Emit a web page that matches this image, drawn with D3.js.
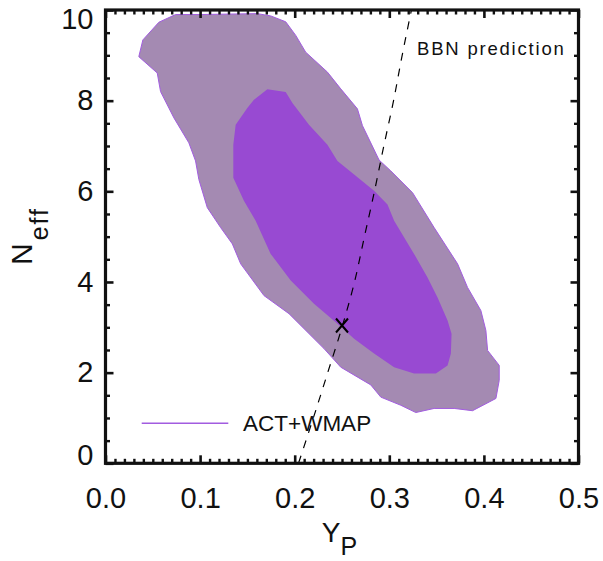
<!DOCTYPE html>
<html><head><meta charset="utf-8">
<script src="https://cdn.jsdelivr.net/npm/d3@7"></script>
<style>body{margin:0;background:#fff} svg{display:block}</style>
</head><body><div id="chart"></div>
<script>
// ---- data ----
const outerYp   = [0.0352,0.0395,0.0564,0.0741,0.1005,0.1605,0.1746,0.1905,0.2011,0.2116,0.2346,0.2487,0.2663,0.2716,0.2892,0.3016,0.3246,0.3474,0.3722,0.3827,0.3968,0.4021,0.4039,0.4162,0.4162,0.4127,0.3880,0.3686,0.3474,0.3280,0.3122,0.2910,0.2804,0.2487,0.2310,0.1940,0.1675,0.1429,0.1341,0.1217,0.1076,0.0987,0.0952,0.0881,0.0723,0.0582,0.0547];
const outerNeff = [8.97,9.34,9.73,9.90,9.90,9.92,9.87,9.74,9.44,9.07,8.63,8.26,7.82,7.45,6.69,6.45,5.97,5.20,4.40,3.88,3.37,2.93,2.49,2.16,1.83,1.43,1.16,1.21,1.21,1.12,1.28,1.46,1.73,2.12,2.53,3.30,3.70,4.40,4.84,5.20,5.64,6.26,6.67,7.07,7.62,8.20,8.61];
const innerYp   = [0.1711,0.1905,0.1976,0.2151,0.2346,0.2452,0.2628,0.2839,0.2981,0.3051,0.3262,0.3404,0.3510,0.3616,0.3658,0.3651,0.3616,0.3492,0.3262,0.3051,0.2839,0.2628,0.2452,0.2204,0.1958,0.1746,0.1587,0.1463,0.1351,0.1351,0.1376,0.1499,0.1569];
const innerNeff = [8.25,8.19,7.95,7.47,7.03,6.67,6.37,6.01,5.71,5.35,4.62,4.10,3.66,3.15,2.86,2.42,2.16,1.98,1.98,2.12,2.42,2.75,3.08,3.52,4.03,4.62,5.35,5.79,6.30,7.03,7.47,7.84,8.02];
const bbnNeff = [0,1,2,3,4,5,6,7,8,9,10];
const bbnYp   = [0.204,0.2197,0.2349,0.2500,0.2632,0.2737,0.2843,0.2942,0.3045,0.3136,0.3234];
const fiducialYp = 0.25, fiducialNeff = 3.04;
const xMajorTicks = [0,0.1,0.2,0.3,0.4,0.5];
const xTickLabels = ["0.0","0.1","0.2","0.3","0.4","0.5"];
const yMajorTicks = [0,2,4,6,8,10];
const yTickLabels = ["0","2","4","6","8","10"];
const legendLabel = "ACT+WMAP";
const bbnLabel = "BBN prediction";

// ---- layout ----
const W = 603, H = 561;
const L = 105.5, R = 578.5, T = 10, B = 463.3;
const FONT = "'Liberation Sans', Arial, Helvetica, sans-serif";
const C_OUT = "#a48ab2", C_IN = "#984ad2", C_EDGE = "#a25ce0";

const svg = d3.select("#chart").append("svg").attr("width", W).attr("height", H)
  .style("font-family", FONT);

const x = d3.scaleLinear().domain([0, 0.5]).range([L, R]);
const y = d3.scaleLinear().domain([0, 10]).range([B, T]);

svg.append("clipPath").attr("id", "clip").append("rect")
  .attr("x", L).attr("y", T).attr("width", R - L).attr("height", B - T);

const line = d3.line().x(d => x(d[0])).y(d => y(d[1]));
const outer = outerYp.map((v, i) => [v, outerNeff[i]]);
const inner = innerYp.map((v, i) => [v, innerNeff[i]]);

const g = svg.append("g").attr("clip-path", "url(#clip)");
g.append("path").datum(outer).attr("d", line.curve(d3.curveLinearClosed))
  .attr("fill", C_OUT).attr("stroke", C_EDGE).attr("stroke-width", 1);
g.append("path").datum(inner).attr("d", line.curve(d3.curveLinearClosed))
  .attr("fill", C_IN).attr("stroke", "none");

const bbn = bbnNeff.map((n, i) => [bbnYp[i], n]);
g.append("path").datum(bbn).attr("d", d3.line().x(d => x(d[0])).y(d => y(d[1])).curve(d3.curveMonotoneY)(bbn))
  .attr("fill", "none").attr("stroke", "#000").attr("stroke-width", 1.2)
  .attr("stroke-dasharray", "8,8");

// fiducial X
const fx = x(fiducialYp), fy = y(fiducialNeff), s = 6;
svg.append("path")
  .attr("d", `M${fx - s},${fy - s - 1}L${fx + s},${fy + s + 1}M${fx + s},${fy - s - 1}L${fx - s},${fy + s + 1}`)
  .attr("stroke", "#000").attr("stroke-width", 2).attr("fill", "none");

// legend
svg.append("line").attr("x1", 141.7).attr("x2", 228.3).attr("y1", 423.3).attr("y2", 423.3)
  .attr("stroke", C_EDGE).attr("stroke-width", 1.5);
svg.append("text").attr("x", 243).attr("y", 430.5).attr("font-size", 22.5)
  .attr("fill", "#111").text(legendLabel);
svg.append("text").attr("x", 417).attr("y", 55).attr("font-size", 18.5)
  .attr("letter-spacing", 1.8).attr("fill", "#111").text(bbnLabel);

// ---- axes ----
const xMinor = d3.range(0, 50.5, 1).map(v => v / 100).filter(v => Math.round(v * 1000) % 100 !== 0);
const yMinor = d3.range(0, 10.01, 0.5).filter(v => v % 2 !== 0);

function styleAxis(sel, w) {
  sel.selectAll(".domain").remove();
  sel.selectAll(".tick line").attr("stroke", "#111").attr("stroke-width", w);
}
const tickFmtX = (d) => xTickLabels[xMajorTicks.findIndex(v => Math.abs(v - d) < 1e-9)];
const tickFmtY = (d) => yTickLabels[yMajorTicks.indexOf(d)];

// bottom
const gb = svg.append("g").attr("transform", `translate(0,${B})`)
  .call(d3.axisBottom(x).tickValues(xMajorTicks).tickSizeInner(-8).tickSizeOuter(0).tickPadding(24).tickFormat(tickFmtX));
styleAxis(gb, 2.6);
gb.selectAll("text").attr("font-size", 29).attr("font-family", FONT).attr("fill", "#111");
styleAxis(svg.append("g").attr("transform", `translate(0,${B})`)
  .call(d3.axisBottom(x).tickValues(xMinor).tickSizeInner(-4.5).tickSizeOuter(0).tickFormat("")), 2.4);
// top
styleAxis(svg.append("g").attr("transform", `translate(0,${T})`)
  .call(d3.axisTop(x).tickValues(xMajorTicks).tickSizeInner(-8).tickSizeOuter(0).tickFormat("")), 2.6);
styleAxis(svg.append("g").attr("transform", `translate(0,${T})`)
  .call(d3.axisTop(x).tickValues(xMinor).tickSizeInner(-4.5).tickSizeOuter(0).tickFormat("")), 2.4);
// left
const gl = svg.append("g").attr("transform", `translate(${L},0)`)
  .call(d3.axisLeft(y).tickValues(yMajorTicks).tickSizeInner(-8).tickSizeOuter(0).tickPadding(12).tickFormat(tickFmtY));
styleAxis(gl, 2.6);
gl.selectAll("text").attr("font-size", 29).attr("font-family", FONT).attr("fill", "#111");
gl.selectAll(".tick").filter(d => d === 10).select("text").attr("dy", "0.32em").attr("y", 9);
gl.selectAll(".tick").filter(d => d === 0).select("text").attr("y", -8);
styleAxis(svg.append("g").attr("transform", `translate(${L},0)`)
  .call(d3.axisLeft(y).tickValues(yMinor).tickSizeInner(-4.5).tickSizeOuter(0).tickFormat("")), 2.4);
// right
styleAxis(svg.append("g").attr("transform", `translate(${R},0)`)
  .call(d3.axisRight(y).tickValues(yMajorTicks).tickSizeInner(-8).tickSizeOuter(0).tickFormat("")), 2.6);
styleAxis(svg.append("g").attr("transform", `translate(${R},0)`)
  .call(d3.axisRight(y).tickValues(yMinor).tickSizeInner(-4.5).tickSizeOuter(0).tickFormat("")), 2.4);

// frame
svg.append("rect").attr("x", L).attr("y", T).attr("width", R - L).attr("height", B - T)
  .attr("fill", "none").attr("stroke", "#111").attr("stroke-width", 3.2);

// axis titles
const xt = svg.append("text").attr("x", 339.5).attr("y", 542).attr("text-anchor", "middle")
  .attr("font-size", 28).attr("fill", "#111");
xt.append("tspan").text("Y");
xt.append("tspan").attr("dy", 13).attr("font-size", 25).text("P");

const yt = svg.append("text").attr("transform", "translate(32,236) rotate(-90)")
  .attr("text-anchor", "middle").attr("font-size", 30).attr("fill", "#111");
yt.append("tspan").text("N");
yt.append("tspan").attr("dy", 16).attr("dx", 3).attr("font-size", 25).attr("letter-spacing", 2).text("eff");
</script>
</body></html>
